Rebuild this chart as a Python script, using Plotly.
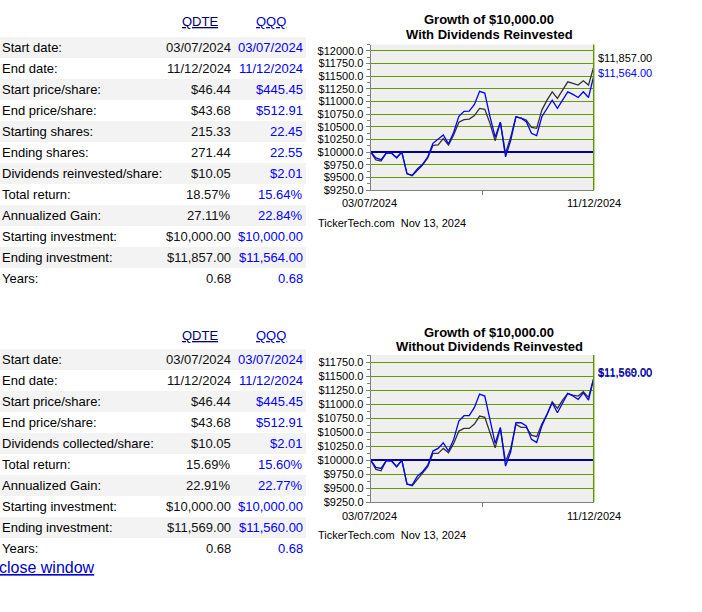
import plotly.graph_objects as go

# page size of the reference
W, H = 702, 612
FONT = "Liberation Sans, Arial, sans-serif"

# ---- data ----
tickers = ["QDTE", "QQQ"]

labels_reinv = ["Start date:", "End date:", "Start price/share:", "End price/share:",
                "Starting shares:", "Ending shares:", "Dividends reinvested/share:",
                "Total return:", "Annualized Gain:", "Starting investment:",
                "Ending investment:", "Years:"]
qdte_reinv_stats = ["03/07/2024", "11/12/2024", "$46.44", "$43.68", "215.33", "271.44",
                    "$10.05", "18.57%", "27.11%", "$10,000.00", "$11,857.00", "0.68"]
qqq_reinv_stats = ["03/07/2024", "11/12/2024", "$445.45", "$512.91", "22.45", "22.55",
                   "$2.01", "15.64%", "22.84%", "$10,000.00", "$11,564.00", "0.68"]

labels_div = ["Start date:", "End date:", "Start price/share:", "End price/share:",
              "Dividends collected/share:", "Total return:", "Annualized Gain:",
              "Starting investment:", "Ending investment:", "Years:"]
qdte_div_stats = ["03/07/2024", "11/12/2024", "$46.44", "$43.68", "$10.05", "15.69%",
                  "22.91%", "$10,000.00", "$11,569.00", "0.68"]
qqq_div_stats = ["03/07/2024", "11/12/2024", "$445.45", "$512.91", "$2.01", "15.60%",
                 "22.77%", "$10,000.00", "$11,560.00", "0.68"]

# growth of $10,000
qdte_reinv = [10000, 9845, 9822, 9980, 9980, 9887, 10000, 9570, 9533, 9640, 9740,
              9885, 10130, 10140, 10265, 10140, 10336, 10590, 10640, 10650, 10720,
              10862, 10845, 10567, 10223, 10590, 9970, 10300, 10697, 10670, 10632,
              10488, 10468, 10829, 11026, 11190, 11060, 11224, 11388, 11356, 11323,
              11408, 11323, 11680]
qqq_reinv = [10000, 9885, 9850, 9980, 9980, 9887, 10000, 9575, 9540, 9664, 9757,
             9907, 10172, 10250, 10336, 10160, 10390, 10705, 10805, 10810, 10940,
             11200, 11165, 10700, 10295, 10590, 9905, 10230, 10697, 10670, 10600,
             10370, 10325, 10697, 10863, 11026, 10863, 11026, 11190, 11139, 11079,
             11190, 11079, 11500]
qdte_div = [10000, 9833, 9809, 9988, 9988, 9881, 10000, 9570, 9541, 9654, 9749,
            9881, 10119, 10119, 10209, 10131, 10298, 10519, 10567, 10567, 10644,
            10788, 10764, 10500, 10221, 10567, 9970, 10209, 10638, 10585, 10585,
            10447, 10418, 10644, 10817, 11044, 10925, 11074, 11193, 11164, 11146,
            11223, 11122, 11462]
qqq_div = [10000, 9869, 9851, 9988, 9988, 9881, 10000, 9570, 9552, 9714, 9791,
           9910, 10161, 10209, 10310, 10161, 10370, 10698, 10794, 10794, 10943,
           11181, 11146, 10740, 10298, 10585, 9893, 10149, 10668, 10668, 10609,
           10370, 10316, 10609, 10835, 11026, 10847, 11026, 11193, 11146, 11086,
           11205, 11074, 11462]

end_values_reinv = [11857.00, 11564.00]
end_values_div = [11569.00, 11560.00]
date_labels = ["03/07/2024", "11/12/2024"]
stamp = "TickerTech.com\u00a0\u00a0Nov 13, 2024"
baseline = 10000

C_QDTE = "#333333"
C_QQQ = "#0000ff"
GRID = "#669900"
AXIS = "#808080"


def px(x):
    return x / W


def py(y):
    return 1 - y / H


fig = go.Figure()
annotations = []
shapes = []


def text(x, y, s, size=13, color="#000000", anchor="left", bold=False, under=False, yref="paper"):
    f = dict(family=FONT, size=size, color=color, weight="bold" if bold else "normal")
    if under:
        f["lineposition"] = "under"
    annotations.append(dict(x=px(x), y=py(y) if yref == "paper" else y, xref="paper", yref=yref,
                            text=s, showarrow=False, xanchor=anchor, yanchor="middle",
                            font=f, borderpad=0))


def add_table(labels, col1, col2, head_y, first_row_top):
    text(199.8, head_y, tickers[0], color="#000066", anchor="center", under=True)
    text(271.3, head_y, tickers[1], color="#0000cc", anchor="center", under=True)
    for i, lab in enumerate(labels):
        top = first_row_top + 21 * i
        if i % 2 == 0:
            shapes.append(dict(type="rect", xref="paper", yref="paper", x0=0, x1=px(306),
                               y0=py(top + 21), y1=py(top), fillcolor="#f3f3f3",
                               line=dict(width=0), layer="below"))
        yc = top + 10.5
        text(1, yc, lab)
        text(231.5, yc, col1[i], color="#111111", anchor="right")
        text(303.5, yc, col2[i], color=C_QQQ, anchor="right")


def add_growth(n, top, bottom, yrange, qdte, qqq, ends, title2, title_y):
    sx = "" if n == 1 else str(n)
    xs = list(range(len(qdte)))
    # baseline at the starting investment
    fig.add_trace(go.Scatter(x=[xs[0], xs[-1]], y=[baseline, baseline], mode="lines",
                             line=dict(color="#000099", width=2),
                             xaxis="x" + sx, yaxis="y" + sx, showlegend=False, hoverinfo="skip"))
    fig.add_trace(go.Scatter(x=xs, y=qdte, mode="lines", line=dict(color=C_QDTE, width=1.3),
                             xaxis="x" + sx, yaxis="y" + sx, showlegend=False, hoverinfo="skip"))
    fig.add_trace(go.Scatter(x=xs, y=qqq, mode="lines", line=dict(color=C_QQQ, width=1.3),
                             xaxis="x" + sx, yaxis="y" + sx, showlegend=False, hoverinfo="skip"))
    ax = dict(domain=[px(370.7), px(593.7)], range=[0, len(qdte) - 1], showgrid=False,
              zeroline=False, showline=True, linecolor=AXIS, linewidth=1, ticks="outside",
              tickvals=[(len(qdte) - 1) / 2], ticklen=4, tickcolor=AXIS,
              showticklabels=False, anchor="y" + sx, fixedrange=True, automargin=False)
    ay = dict(domain=[py(bottom), py(top)], range=yrange, tick0=9250, dtick=250,
              tickprefix="$", tickformat=".1f", showgrid=True, gridcolor=GRID, gridwidth=1,
              zeroline=False, showline=True, linecolor=AXIS, linewidth=1, ticks="outside",
              ticklen=4, tickcolor=AXIS, tickfont=dict(family=FONT, size=11, color="#000000"),
              minor=dict(dtick=125, tick0=9250, ticks="outside", ticklen=3, tickcolor=AXIS,
                         showgrid=False),
              anchor="x" + sx, fixedrange=True, automargin=False)
    fig.update_layout(**{"xaxis" + sx: ax, "yaxis" + sx: ay})
    # right border
    shapes.append(dict(type="line", xref="paper", yref="paper",
                       x0=px(593.7), x1=px(593.7), y0=py(bottom), y1=py(top),
                       line=dict(color=GRID, width=1.5)))
    text(489, title_y, "Growth of $10,000.00", bold=True, anchor="center")
    text(489, title_y + 14.5, title2, bold=True, anchor="center")
    text(369.2, bottom + 13.5, date_labels[0], size=11, anchor="center")
    text(593.8, bottom + 13.5, date_labels[1], size=11, anchor="center")
    text(316.5, bottom + 32.5, stamp, size=11, anchor="left")
    text(596.5, ends[0], "${:,.2f}".format(ends[0]), size=11, color="#000000", yref="y" + sx)
    text(596.5, ends[1], "${:,.2f}".format(ends[1]), size=11, color=C_QQQ, yref="y" + sx)


add_table(labels_reinv, qdte_reinv_stats, qqq_reinv_stats, 22, 37)
add_table(labels_div, qdte_div_stats, qqq_div_stats, 335, 349)
text(-2, 567.5, "close window", size=16, color="#0000cc", under=True)

add_growth(1, 44.5, 190, [9250, 12125], qdte_reinv, qqq_reinv, end_values_reinv,
           "With Dividends Reinvested", 20)
add_growth(2, 355, 502, [9250, 11880], qdte_div, qqq_div, end_values_div,
           "Without Dividends Reinvested", 332)

fig.update_layout(template="none", width=W, height=H, autosize=False,
                  margin=dict(l=0, r=0, t=0, b=0, pad=0, autoexpand=False),
                  paper_bgcolor="white", plot_bgcolor="#efefef",
                  font=dict(family=FONT), annotations=annotations, shapes=shapes)

fig.write_html("out.html", config={"displayModeBar": False},
               post_script="document.body.style.margin='0';")
